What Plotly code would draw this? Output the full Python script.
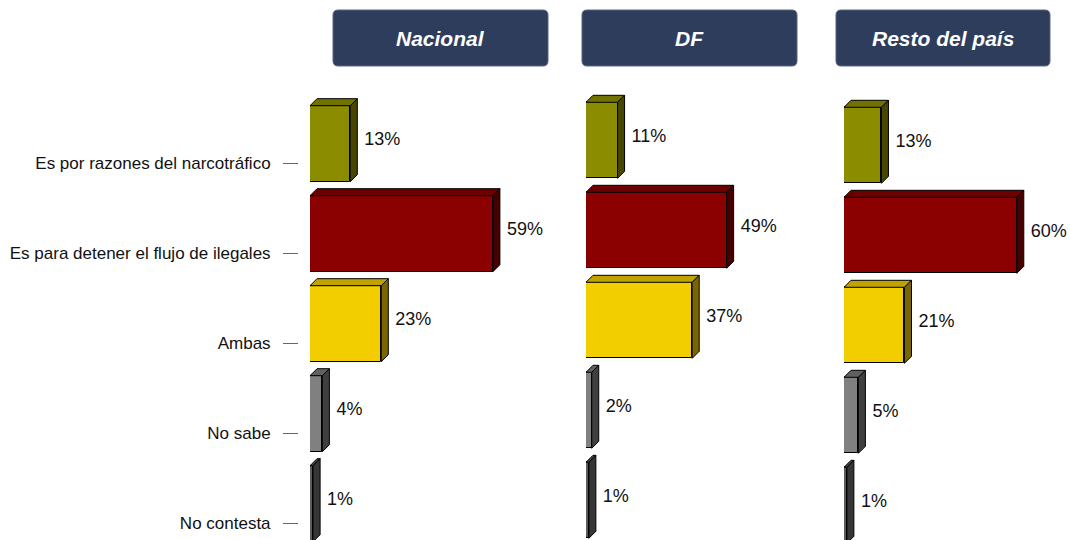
import plotly.graph_objects as go

categorias = ["Es por razones del narcotráfico", "Es para detener el flujo de ilegales",
              "Ambas", "No sabe", "No contesta"]
paneles = ["Nacional", "DF", "Resto del país"]
nacional = [13, 59, 23, 4, 1]
df = [11, 49, 37, 2, 1]
resto = [13, 60, 21, 5, 1]
valores = [nacional, df, resto]

# colores: cara frontal, tapa y lateral
frente = ["#8C8C00", "#8B0000", "#F2CD00", "#808080", "#5C5C5C"]
tapa = ["#727200", "#6C0000", "#C0A200", "#606060", "#484848"]
lado = ["#474700", "#460000", "#7A6600", "#3F3F3F", "#363636"]

W, H = 1070, 540
FUENTE = "Liberation Sans, Arial, sans-serif"
PASO = 90.0          # px entre categorias
ALTO = 76.0 / PASO   # grosor de barra en unidades de categoria
PROF = 7.0           # profundidad 3D en px

# (x inicio px, x fin px, px por %, centro px de la primera categoria)
geo = [(310, 560, 3.10, 143.7), (586, 830, 2.87, 140.3), (844, 1070, 2.88, 145.3)]
cajas = [(333, 548), (582, 797), (836, 1050)]

fig = go.Figure()
h = ALTO / 2
dy = PROF / PASO
for k, vals in enumerate(valores):
    x0, x1, s, c0 = geo[k]
    dx = PROF / s
    xr = "x" if k == 0 else "x%d" % (k + 1)
    yr = "y" if k == 0 else "y%d" % (k + 1)
    ys = list(range(len(vals)))
    fig.add_trace(go.Bar(x=vals, y=ys, orientation="h", base=0, width=ALTO,
                         marker=dict(color=frente, line=dict(color="black", width=1)),
                         xaxis=xr, yaxis=yr, hoverinfo="skip", showlegend=False))
    for i, v in enumerate(vals):
        fig.add_trace(go.Scatter(
            x=[0, v, v + dx, dx, 0], y=[i - h, i - h, i - h - dy, i - h - dy, i - h],
            mode="lines", fill="toself", fillcolor=tapa[i],
            line=dict(color="black", width=1), xaxis=xr, yaxis=yr,
            hoverinfo="skip", showlegend=False))
        fig.add_trace(go.Scatter(
            x=[v, v + dx, v + dx, v, v], y=[i - h, i - h - dy, i + h - dy, i + h, i - h],
            mode="lines", fill="toself", fillcolor=lado[i],
            line=dict(color="black", width=1), xaxis=xr, yaxis=yr,
            hoverinfo="skip", showlegend=False))
    fig.add_trace(go.Scatter(
        x=[v + (PROF + 7) / s for v in vals], y=[i - 3 / PASO for i in ys],
        text=["%d%%" % v for v in vals], mode="text", textposition="middle right",
        textfont=dict(family=FUENTE, size=18, color="#111111"),
        xaxis=xr, yaxis=yr, hoverinfo="skip", showlegend=False, cliponaxis=False))

    ejex = dict(domain=[x0 / W, x1 / W], range=[0, (x1 - x0) / s], visible=False,
                anchor=yr, fixedrange=True)
    ejey = dict(domain=[0, 1], range=[(H - c0) / PASO, -c0 / PASO], showgrid=False,
                zeroline=False, fixedrange=True, anchor=xr)
    if k == 0:
        ejey.update(tickmode="array", tickvals=[i + 19.6 / PASO for i in range(len(categorias))],
                    ticktext=categorias, ticks="outside", ticklen=15, tickwidth=1,
                    tickcolor="#666666", showline=False, anchor="free", position=298 / W,
                    ticklabelstandoff=9,
                    tickfont=dict(family=FUENTE, size=17, color="#111111"))
    else:
        ejey.update(visible=False)
    nombre = "" if k == 0 else str(k + 1)
    fig.layout["xaxis" + nombre] = ejex
    fig.layout["yaxis" + nombre] = ejey

# cajas de encabezado con esquinas redondeadas
r = 5.0
for (a, b), titulo in zip(cajas, paneles):
    t, u = 10.0, 66.0
    rx, ry = r / W, r / H
    xa, xb = a / W, b / W
    ya, yb = 1 - t / H, 1 - u / H
    path = ("M %f,%f L %f,%f Q %f,%f %f,%f L %f,%f Q %f,%f %f,%f L %f,%f Q %f,%f %f,%f "
            "L %f,%f Q %f,%f %f,%f Z") % (
        xa + rx, ya, xb - rx, ya, xb, ya, xb, ya - ry,
        xb, yb + ry, xb, yb, xb - rx, yb,
        xa + rx, yb, xa, yb, xa, yb + ry,
        xa, ya - ry, xa, ya, xa + rx, ya)
    fig.add_shape(type="path", path=path, xref="paper", yref="paper",
                  fillcolor="#2E3D5C", line=dict(color="#5A6680", width=1), layer="below")
    fig.add_annotation(x=(xa + xb) / 2, y=(ya + yb) / 2, xref="paper", yref="paper",
                       xanchor="center", yanchor="middle",
                       text="<b><i>%s</i></b>" % titulo, showarrow=False,
                       font=dict(family=FUENTE, size=21, color="white"))

fig.update_layout(width=W, height=H, margin=dict(l=0, r=0, t=0, b=0),
                  paper_bgcolor="white", plot_bgcolor="rgba(0,0,0,0)", bargap=0)
fig.write_html("out.html", config={"displayModeBar": False},
               post_script="document.body.style.margin='0';")
